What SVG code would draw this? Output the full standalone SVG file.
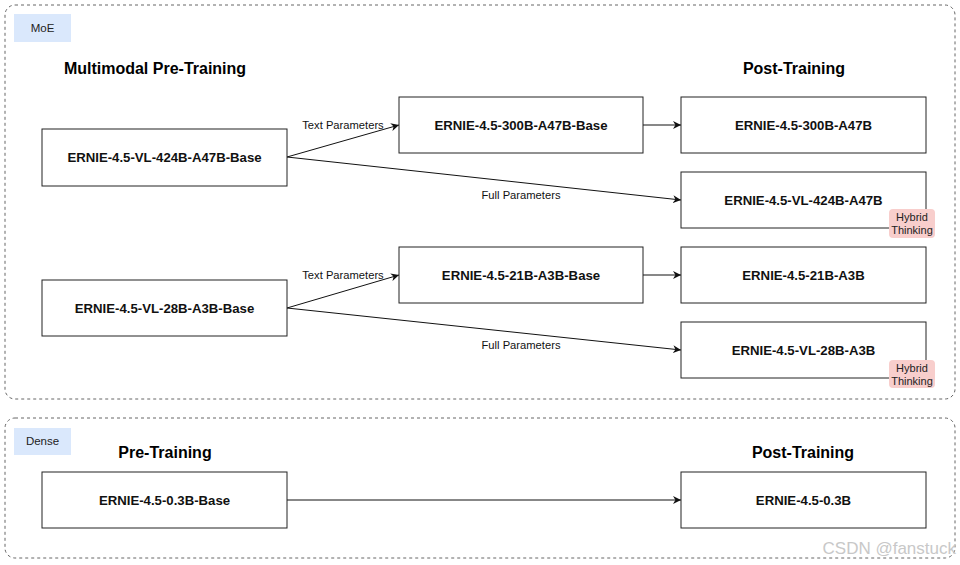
<svg xmlns="http://www.w3.org/2000/svg" width="960" height="565" viewBox="0 0 960 565">
<defs>
<style>
.cont{fill:none;stroke:#666;stroke-width:1;stroke-dasharray:3 3}
.tag{fill:#dae8fc}
.tagt{font-family:"Liberation Sans",Arial,sans-serif;font-size:11.5px;fill:#222;text-anchor:middle}
.hdr{font-family:"Liberation Sans",Arial,sans-serif;font-size:16px;font-weight:bold;fill:#000;text-anchor:middle}
.box{fill:#fff;stroke:#222;stroke-width:1}
.bt{font-family:"Liberation Sans",Arial,sans-serif;font-size:13.2px;font-weight:bold;fill:#111;text-anchor:middle}
.edge{fill:none;stroke:#111;stroke-width:1}
.el{font-family:"Liberation Sans",Arial,sans-serif;font-size:11.2px;fill:#111;text-anchor:middle}
.badge{fill:#f8cecc}
.badget{font-family:"Liberation Sans",Arial,sans-serif;font-size:11px;fill:#222;text-anchor:middle}
</style>
<marker id="arr" viewBox="0 0 10 10" refX="10" refY="5" markerWidth="8" markerHeight="8" orient="auto" markerUnits="userSpaceOnUse">
<path d="M0,0 L10,5 L0,10 L3,5 Z" fill="#111"/>
</marker>
</defs>
<rect width="960" height="565" fill="#fff"/>

<g id="moe-container">
<rect class="cont" x="5" y="5" width="950" height="394" rx="10"/>
<rect class="tag" x="14" y="14" width="57" height="28"/>
<text class="tagt" x="42.5" y="32">MoE</text>
<text class="hdr" x="155" y="74">Multimodal Pre-Training</text>
<text class="hdr" x="794" y="74">Post-Training</text>
</g>

<g id="dense-container">
<rect class="cont" x="5" y="418" width="950" height="140" rx="10"/>
<rect class="tag" x="14" y="428" width="57" height="27"/>
<text class="tagt" x="42.5" y="445">Dense</text>
<text class="hdr" x="165" y="458">Pre-Training</text>
<text class="hdr" x="803" y="458">Post-Training</text>
</g>

<g id="connectors">
<line class="edge" x1="287" y1="157" x2="399" y2="125" marker-end="url(#arr)"/>
<text class="el" x="343" y="129">Text Parameters</text>
<line class="edge" x1="287" y1="157" x2="681" y2="200" marker-end="url(#arr)"/>
<text class="el" x="521" y="199">Full Parameters</text>
<line class="edge" x1="643" y1="125" x2="681" y2="125" marker-end="url(#arr)"/>
<line class="edge" x1="287" y1="308" x2="399" y2="275" marker-end="url(#arr)"/>
<text class="el" x="343" y="279">Text Parameters</text>
<line class="edge" x1="287" y1="308" x2="681" y2="350" marker-end="url(#arr)"/>
<text class="el" x="521" y="349">Full Parameters</text>
<line class="edge" x1="643" y1="275" x2="681" y2="275" marker-end="url(#arr)"/>
<line class="edge" x1="287" y1="500" x2="681" y2="500" marker-end="url(#arr)"/>
</g>

<g id="n-vl424-base">
<rect class="box" x="42" y="129" width="245" height="57"/>
<text class="bt" x="164.5" y="162">ERNIE-4.5-VL-424B-A47B-Base</text>
</g>
<g id="n-300b-base">
<rect class="box" x="399" y="97" width="244" height="56"/>
<text class="bt" x="521" y="130">ERNIE-4.5-300B-A47B-Base</text>
</g>
<g id="n-300b">
<rect class="box" x="681" y="97" width="245" height="56"/>
<text class="bt" x="803.5" y="130">ERNIE-4.5-300B-A47B</text>
</g>
<g id="n-vl424">
<rect class="box" x="681" y="172" width="245" height="56"/>
<text class="bt" x="803.5" y="205">ERNIE-4.5-VL-424B-A47B</text>
<rect class="badge" x="889" y="209" width="46" height="29" rx="4"/>
<text class="badget" x="912" y="221">Hybrid</text>
<text class="badget" x="912" y="234">Thinking</text>
</g>
<g id="n-vl28-base">
<rect class="box" x="42" y="280" width="245" height="56"/>
<text class="bt" x="164.5" y="313">ERNIE-4.5-VL-28B-A3B-Base</text>
</g>
<g id="n-21b-base">
<rect class="box" x="399" y="247" width="244" height="56"/>
<text class="bt" x="521" y="280">ERNIE-4.5-21B-A3B-Base</text>
</g>
<g id="n-21b">
<rect class="box" x="681" y="247" width="245" height="56"/>
<text class="bt" x="803.5" y="280">ERNIE-4.5-21B-A3B</text>
</g>
<g id="n-vl28">
<rect class="box" x="681" y="322" width="245" height="56"/>
<text class="bt" x="803.5" y="355">ERNIE-4.5-VL-28B-A3B</text>
<rect class="badge" x="889" y="360" width="46" height="28" rx="4"/>
<text class="badget" x="912" y="372">Hybrid</text>
<text class="badget" x="912" y="385">Thinking</text>
</g>
<g id="n-03b-base">
<rect class="box" x="42" y="472" width="245" height="56"/>
<text class="bt" x="164.5" y="505">ERNIE-4.5-0.3B-Base</text>
</g>
<g id="n-03b">
<rect class="box" x="681" y="472" width="245" height="56"/>
<text class="bt" x="803.5" y="505">ERNIE-4.5-0.3B</text>
</g>

<text x="956" y="554" font-family="Liberation Sans,Arial,sans-serif" font-size="17" fill="#c8c8c8" text-anchor="end">CSDN @fanstuck</text>
</svg>
